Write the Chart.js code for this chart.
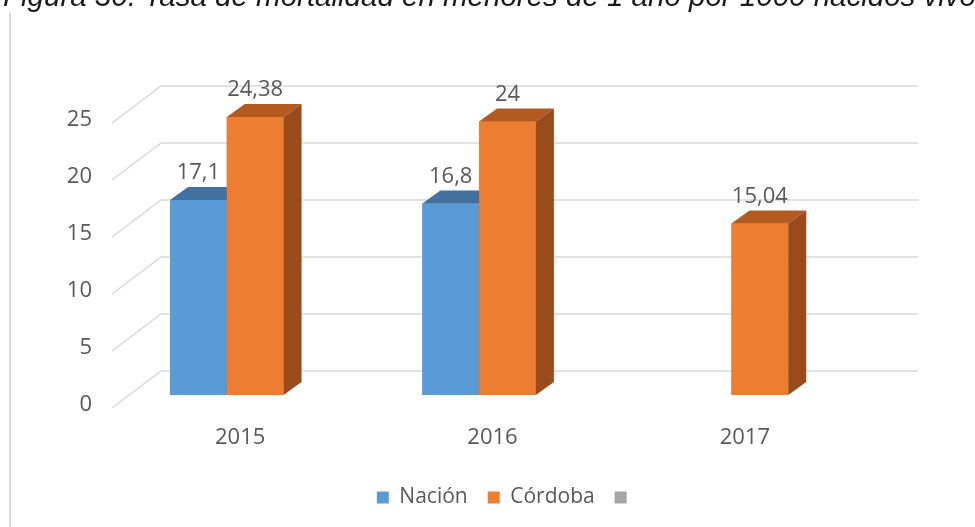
<!DOCTYPE html>
<html>
<head>
<meta charset="utf-8">
<script src="https://cdn.jsdelivr.net/npm/chart.js@4.4.1/dist/chart.umd.min.js"></script>
<style>
  html, body { margin: 0; padding: 0; background: #fff; }
</style>
</head>
<body>
<canvas id="myChart" width="975" height="527"></canvas>
<script>
const years = ['2015', '2016', '2017'];
const nacion = [17.1, 16.8, null];
const cordoba = [24.38, 24, 15.04];
const otra = [null, null, null];
const yMin = 0, yMax = 25, yStep = 5;
const titulo = 'Figura 30. Tasa de mortalidad en menores de 1 año por 1000 nacidos vivos';

const fuente = '"Open Sans", "Noto Sans", sans-serif';
const gris = '#595959';

// fake 3D: depth of the bars and of the floor, in px
const dx = 18, dy = 13;
const pisoFrente = { x: -17, y: 13 };
const pisoFondo = { x: 32, y: -24 };

const caras = [
  { frente: '#5b9bd5', arriba: '#41719c', lado: '#3b6792' },
  { frente: '#ed7d31', arriba: '#b35a20', lado: '#9a4b1b' },
  { frente: '#a5a5a5', arriba: '#7c7c7c', lado: '#6e6e6e' }
];

const fmt = v => String(v).replace('.', ',');

const fondo = {
  id: 'fondo',
  beforeDraw(chart) {
    const ctx = chart.ctx;
    const { left, right } = chart.chartArea;
    const y = chart.scales.y;
    ctx.save();
    // left frame line
    ctx.strokeStyle = '#d9d9d9';
    ctx.lineWidth = 2;
    ctx.beginPath();
    ctx.moveTo(10, 13);
    ctx.lineTo(10, 527);
    ctx.stroke();
    // gridlines: floor diagonal + back wall
    ctx.lineWidth = 1.5;
    for (let v = yMin; v <= yMax; v += yStep) {
      const py = y.getPixelForValue(v);
      ctx.beginPath();
      ctx.moveTo(left + pisoFrente.x, py + pisoFrente.y);
      ctx.lineTo(left + pisoFondo.x, py + pisoFondo.y);
      ctx.lineTo(right + pisoFondo.x, py + pisoFondo.y);
      ctx.stroke();
    }
    ctx.restore();
  },
  afterDatasetsDraw(chart) {
    const ctx = chart.ctx;
    ctx.save();
    const n = chart.data.datasets.length;
    for (let i = 0; i < years.length; i++) {
      for (let d = 0; d < n; d++) {
        const val = chart.data.datasets[d].data[i];
        if (val == null) continue;
        const el = chart.getDatasetMeta(d).data[i];
        const { x, y, base, width } = el.getProps(['x', 'y', 'base', 'width'], true);
        const l = x - width / 2, r = x + width / 2;
        const c = caras[d];
        ctx.fillStyle = c.frente;
        ctx.fillRect(l, y, width, base - y);
        ctx.fillStyle = c.arriba;
        ctx.beginPath();
        ctx.moveTo(l, y);
        ctx.lineTo(l + dx, y - dy);
        ctx.lineTo(r + dx, y - dy);
        ctx.lineTo(r, y);
        ctx.closePath();
        ctx.fill();
        ctx.fillStyle = c.lado;
        ctx.beginPath();
        ctx.moveTo(r, y);
        ctx.lineTo(r + dx, y - dy);
        ctx.lineTo(r + dx, base - dy);
        ctx.lineTo(r, base);
        ctx.closePath();
        ctx.fill();
      }
    }
    // value labels
    ctx.fillStyle = gris;
    ctx.font = '22px ' + fuente;
    ctx.textAlign = 'center';
    ctx.textBaseline = 'middle';
    for (let d = 0; d < n; d++) {
      chart.getDatasetMeta(d).data.forEach((el, i) => {
        const val = chart.data.datasets[d].data[i];
        if (val == null) return;
        ctx.fillText(fmt(val), el.x, el.y - dy - 14);
      });
    }
    ctx.restore();
  },
  afterDraw(chart) {
    const ctx = chart.ctx;
    ctx.save();
    ctx.fillStyle = '#1a1a1a';
    ctx.font = 'italic 29.5px "Liberation Sans", Arial, sans-serif';
    ctx.textAlign = 'left';
    ctx.textBaseline = 'alphabetic';
    ctx.fillText(titulo, 3, 6);
    ctx.restore();
  }
};

new Chart(document.getElementById('myChart'), {
  type: 'bar',
  data: {
    labels: years,
    datasets: [
      { label: 'Nación', data: nacion, backgroundColor: caras[0].frente },
      { label: 'Córdoba', data: cordoba, backgroundColor: caras[1].frente },
      { label: '', data: otra, backgroundColor: caras[2].frente }
    ]
  },
  plugins: [fondo],
  options: {
    responsive: false,
    animation: false,
    layout: { padding: { left: 49, right: 10, top: 110, bottom: 9 } },
    datasets: { bar: { barPercentage: 1, categoryPercentage: 0.675 } },
    scales: {
      x: {
        grid: { display: false, drawTicks: false },
        border: { display: false },
        ticks: { color: gris, font: { family: fuente, size: 22 }, padding: 30, labelOffset: -15 },
        afterFit: s => { s.height = 72; }
      },
      y: {
        min: yMin, max: yMax,
        grid: { display: false, drawTicks: false },
        border: { display: false },
        ticks: { stepSize: yStep, color: gris, font: { family: fuente, size: 22 }, padding: 37, labelOffset: 10 },
        afterFit: s => { s.width = 80; }
      },
      y2: {
        position: 'right',
        grid: { display: false, drawTicks: false },
        border: { display: false },
        ticks: { display: false },
        afterFit: s => { s.width = 79; }
      }
    },
    plugins: {
      tooltip: { enabled: false },
      legend: {
        position: 'bottom',
        labels: {
          color: gris,
          font: { family: fuente, size: 21 },
          boxWidth: 12, boxHeight: 12, padding: 20
        }
      }
    }
  }
});
</script>
</body>
</html>
